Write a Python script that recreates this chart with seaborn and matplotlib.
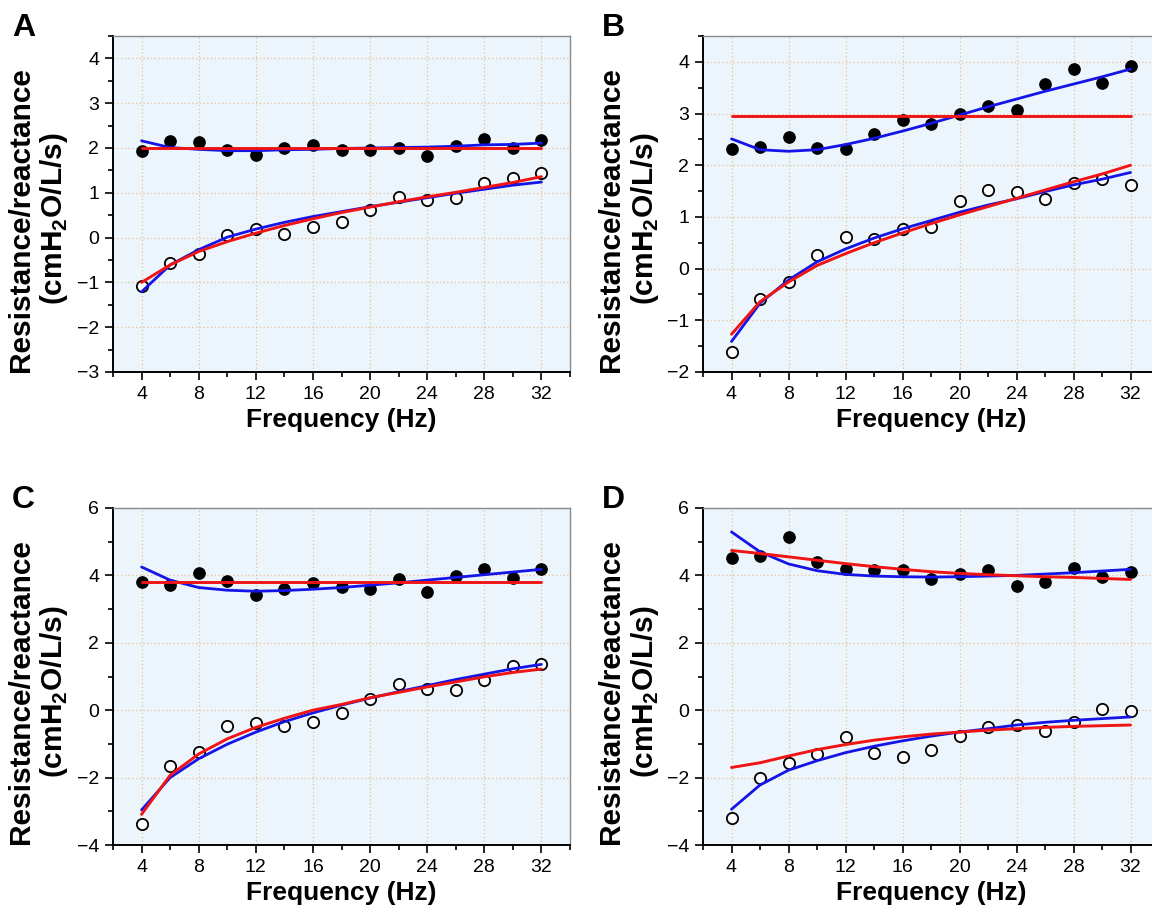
import numpy as np
import pandas as pd
import matplotlib
matplotlib.use("Agg")
import matplotlib.pyplot as plt
from matplotlib.ticker import MultipleLocator
import seaborn as sns

# ---------------- data ----------------
freq = [4, 6, 8, 10, 12, 14, 16, 18, 20, 22, 24, 26, 28, 30, 32]

# Panel A
A_res_pts = [1.93, 2.16, 2.13, 1.96, 1.85, 2.00, 2.06, 1.96, 1.96, 2.01, 1.82, 2.05, 2.19, 2.00, 2.17]
A_rea_pts = [-1.07, -0.56, -0.36, 0.06, 0.19, 0.08, 0.24, 0.34, 0.61, 0.91, 0.84, 0.88, 1.21, 1.33, 1.45]
A_res_red = [2.00, 2.00, 2.00, 2.00, 2.00, 2.00, 2.00, 2.00, 2.00, 2.00, 2.00, 2.00, 2.00, 2.00, 2.00]
A_res_blue = [2.16, 2.01, 1.97, 1.94, 1.94, 1.96, 1.97, 1.99, 2.00, 2.01, 2.02, 2.04, 2.07, 2.08, 2.11]
A_rea_red = [-1.00, -0.61, -0.31, -0.09, 0.10, 0.27, 0.42, 0.56, 0.68, 0.80, 0.91, 1.01, 1.12, 1.23, 1.36]
A_rea_blue = [-1.21, -0.61, -0.27, 0.01, 0.19, 0.34, 0.47, 0.58, 0.69, 0.79, 0.89, 0.99, 1.08, 1.17, 1.24]

# Panel B
B_res_pts = [2.32, 2.36, 2.54, 2.34, 2.32, 2.60, 2.87, 2.79, 3.00, 3.15, 3.07, 3.58, 3.86, 3.60, 3.92]
B_rea_pts = [-1.62, -0.59, -0.26, 0.26, 0.62, 0.58, 0.76, 0.80, 1.30, 1.53, 1.48, 1.35, 1.66, 1.73, 1.62]
B_res_red = [2.95, 2.95, 2.95, 2.95, 2.95, 2.95, 2.95, 2.95, 2.95, 2.95, 2.95, 2.95, 2.95, 2.95, 2.95]
B_res_blue = [2.51, 2.30, 2.27, 2.30, 2.40, 2.52, 2.66, 2.81, 2.97, 3.13, 3.28, 3.43, 3.57, 3.71, 3.86]
B_rea_red = [-1.27, -0.64, -0.26, 0.06, 0.29, 0.50, 0.69, 0.87, 1.04, 1.20, 1.36, 1.52, 1.68, 1.83, 2.00]
B_rea_blue = [-1.41, -0.67, -0.22, 0.13, 0.38, 0.59, 0.77, 0.93, 1.09, 1.23, 1.35, 1.49, 1.62, 1.73, 1.86]

# Panel C
C_res_pts = [3.81, 3.71, 4.06, 3.83, 3.43, 3.60, 3.76, 3.65, 3.60, 3.88, 3.52, 3.98, 4.18, 3.93, 4.18]
C_rea_pts = [-3.37, -1.65, -1.23, -0.48, -0.37, -0.48, -0.34, -0.07, 0.34, 0.77, 0.64, 0.59, 0.91, 1.30, 1.38]
C_res_red = [3.79, 3.79, 3.79, 3.79, 3.79, 3.79, 3.79, 3.79, 3.79, 3.79, 3.79, 3.79, 3.79, 3.79, 3.79]
C_res_blue = [4.25, 3.86, 3.64, 3.56, 3.53, 3.55, 3.59, 3.64, 3.71, 3.78, 3.86, 3.94, 4.02, 4.10, 4.18]
C_rea_red = [-3.09, -1.93, -1.30, -0.85, -0.51, -0.24, 0.00, 0.17, 0.37, 0.53, 0.69, 0.84, 0.99, 1.12, 1.22]
C_rea_blue = [-2.96, -2.00, -1.44, -1.01, -0.65, -0.34, -0.08, 0.15, 0.36, 0.55, 0.73, 0.91, 1.07, 1.23, 1.36]

# Panel D
D_res_pts = [4.53, 4.58, 5.13, 4.41, 4.20, 4.16, 4.16, 3.90, 4.03, 4.17, 3.68, 3.81, 4.21, 3.94, 4.10]
D_rea_pts = [-3.19, -2.00, -1.56, -1.30, -0.79, -1.28, -1.38, -1.19, -0.77, -0.49, -0.44, -0.62, -0.34, 0.04, -0.02]
D_res_red = [4.74, 4.65, 4.55, 4.45, 4.35, 4.26, 4.18, 4.11, 4.06, 4.02, 3.99, 3.96, 3.94, 3.91, 3.88]
D_res_blue = [5.29, 4.70, 4.34, 4.14, 4.03, 3.98, 3.96, 3.95, 3.96, 3.98, 4.00, 4.04, 4.08, 4.13, 4.18]
D_rea_red = [-1.70, -1.56, -1.36, -1.17, -1.02, -0.89, -0.79, -0.71, -0.65, -0.59, -0.55, -0.51, -0.48, -0.46, -0.44]
D_rea_blue = [-2.94, -2.22, -1.78, -1.50, -1.26, -1.07, -0.91, -0.77, -0.65, -0.55, -0.44, -0.36, -0.30, -0.25, -0.20]

panel_labels = ["A", "B", "C", "D"]
x_ticks = [4, 8, 12, 16, 20, 24, 28, 32]
y_limits = [(-3, 4.5), (-2, 4.5), (-4, 6), (-4, 6)]
y_major = [1, 1, 2, 2]
y_minor = [0.5, 0.5, 1, 1]
x_label = "Frequency (Hz)"
y_label = "Resistance/reactance\n(cmH$_\\mathbf{2}$O/L/s)"

panels = [
    (A_res_pts, A_rea_pts, A_res_red, A_res_blue, A_rea_red, A_rea_blue),
    (B_res_pts, B_rea_pts, B_res_red, B_res_blue, B_rea_red, B_rea_blue),
    (C_res_pts, C_rea_pts, C_res_red, C_res_blue, C_rea_red, C_rea_blue),
    (D_res_pts, D_rea_pts, D_res_red, D_res_blue, D_rea_red, D_rea_blue),
]

# ---------------- style ----------------
sns.set_style("white")
plt.rcParams["font.family"] = ["Liberation Sans", "DejaVu Sans"]
plt.rcParams["mathtext.fontset"] = "custom"
plt.rcParams["mathtext.rm"] = "Liberation Sans"
plt.rcParams["mathtext.bf"] = "Liberation Sans:bold"
plt.rcParams["axes.unicode_minus"] = True
for key in ("text.color", "axes.labelcolor", "xtick.color", "ytick.color"):
    plt.rcParams[key] = "black"

RED = "#f01414"
BLUE = "#1414e6"
BG = "#edf5fc"
GRID = "#e6bf98"

fig = plt.figure(figsize=(11.52, 9.11), dpi=100)
W, H = 1152, 911
boxes = [(113, 36, 570, 372), (703, 36, 1159, 372),
         (113, 508, 570, 845), (703, 508, 1159, 845)]

for i, (box, data) in enumerate(zip(boxes, panels)):
    l, t, r, b = box
    ax = fig.add_axes([l / W, 1 - b / H, (r - l) / W, (b - t) / H])
    ax.set_facecolor(BG)
    res_pts, rea_pts, res_red, res_blue, rea_red, rea_blue = data

    sns.scatterplot(x=freq, y=res_pts, ax=ax, color="black", s=66,
                    edgecolor="black", linewidth=1.0, zorder=3)
    sns.scatterplot(x=freq, y=rea_pts, ax=ax, color="white", s=66,
                    edgecolor="black", linewidth=1.3, zorder=3)
    for yy in (res_blue, rea_blue):
        sns.lineplot(x=freq, y=yy, ax=ax, color=BLUE, linewidth=2.0,
                     estimator=None, sort=False, zorder=4)
    for yy in (res_red, rea_red):
        sns.lineplot(x=freq, y=yy, ax=ax, color=RED, linewidth=2.1,
                     estimator=None, sort=False, zorder=5)

    ax.set_xlim(2, 34)
    ax.set_ylim(*y_limits[i])
    ax.set_xticks(x_ticks)
    ax.xaxis.set_minor_locator(MultipleLocator(2))
    ax.yaxis.set_major_locator(MultipleLocator(y_major[i]))
    ax.yaxis.set_minor_locator(MultipleLocator(y_minor[i]))
    ax.tick_params(which="both", direction="out", bottom=True, left=True,
                   top=False, right=False, color="black", width=1.2)
    ax.tick_params(which="major", length=6, labelsize=14, pad=4,
                   labelcolor="black")
    ax.tick_params(which="minor", length=3.5)
    ax.grid(True, which="major", linestyle=(0, (1, 2)), color=GRID, linewidth=0.9)
    ax.set_axisbelow(True)

    for s in ("left", "bottom"):
        ax.spines[s].set_color("black")
        ax.spines[s].set_linewidth(1.4)
    for s in ("top", "right"):
        ax.spines[s].set_color("#8a8a8a")
        ax.spines[s].set_linewidth(1.0)

    ax.set_xlabel(x_label, fontsize=19, fontweight="bold", labelpad=4,
                  color="black")
    ax.set_ylabel(y_label, fontsize=21.5, fontweight="bold", linespacing=1.15,
                  color="black")
    ax.yaxis.set_label_coords(-0.093, 0.455)

    fig.text((l - 101) / W, 1 - t / H, panel_labels[i], fontsize=23,
             fontweight="bold", ha="left", va="baseline", color="black")

fig.savefig("out.png", dpi=100)
